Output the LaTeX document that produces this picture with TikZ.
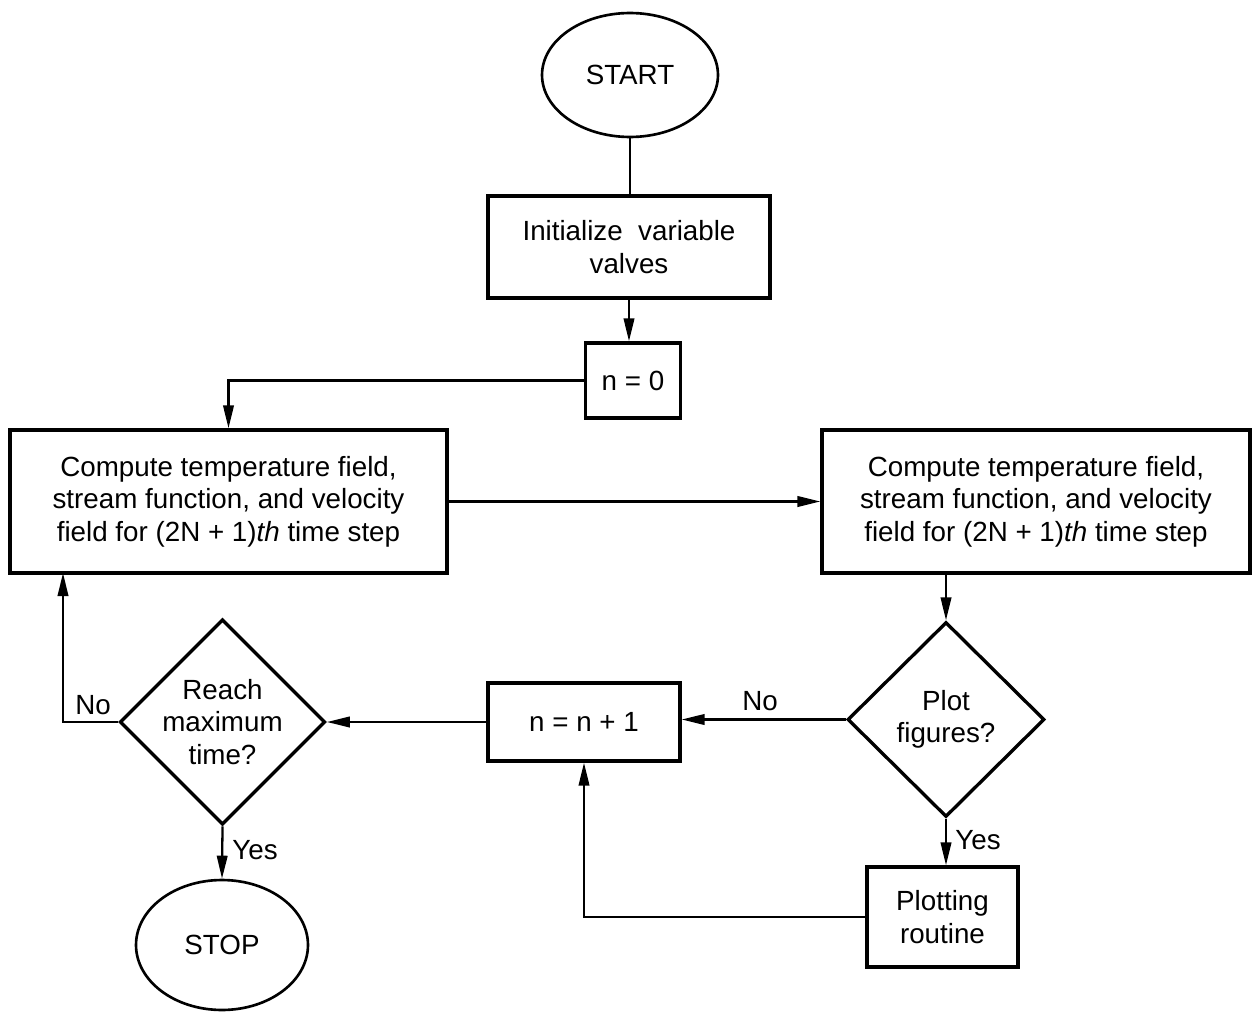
\documentclass[tikz,border=0pt]{standalone}
\usepackage{fontspec}
\setmainfont{Liberation Sans}
\usetikzlibrary{shapes.geometric,arrows.meta}

\tikzset{
    box/.style={draw, line width=1.9pt, align=center, inner sep=2pt},
    decision/.style={draw, diamond, line width=1.9pt, align=center, inner sep=0pt},
    terminal/.style={draw, ellipse, line width=1.5pt, inner sep=0pt},
    arr/.style={line width=1.3pt, -{Triangle[length=4.6mm, width=2.1mm]}},
    link/.style={line width=1.3pt},
    lbl/.style={inner sep=0pt}
}

\begin{document}
\begin{tikzpicture}[x=0.02cm, y=-0.02cm, font=\fontsize{15.8}{18.4}\selectfont]
        \useasboundingbox (0,0) rectangle (1258,1017);

        % Top part
        \node[terminal, minimum width=3.52cm, minimum height=2.48cm] (start) at (630,75) {START};
        \node[box, minimum width=5.64cm, minimum height=2.04cm] (init) at (629,247) {Initialize\ \ variable\\valves};
        \node[box, minimum width=1.9cm, minimum height=1.5cm] (nzero) at (633,380.5) {n = 0};

        % The two compute steps
        \node[box, minimum width=8.74cm, minimum height=2.86cm] (stepa) at (228.5,501.5)
            {Compute temperature field,\\stream function, and velocity\\field for (2N + 1)\textit{th} time step};
        \node[box, minimum width=8.56cm, minimum height=2.86cm] (stepb) at (1036,501.5)
            {Compute temperature field,\\stream function, and velocity\\field for (2N + 1)\textit{th} time step};

        % Decisions and loop
        \node[decision, minimum width=3.94cm, minimum height=3.9cm] (plot) at (946,719.5) {Plot\\figures?};
        \node[box, minimum width=3.84cm, minimum height=1.56cm] (incr) at (584,722) {n = n + 1};
        \node[decision, minimum width=3.9cm, minimum height=3.84cm] (reach) at (222.5,722) {Reach\\maximum\\time?};
        \node[box, minimum width=3.02cm, minimum height=2cm] (plotting) at (942.5,917) {Plotting\\routine};
        \node[terminal, minimum width=3.44cm, minimum height=2.6cm] (stop) at (222,945) {STOP};

        \coordinate (noup) at (63,573);

        % Connectors
        \draw[link] (start.south) -- (start.south |- init.north);
        \draw[arr] (init.south) -- (init.south |- nzero.north);
        \draw[arr] (nzero.west) -| (stepa.north);
        \draw[arr] (stepa.east) -- (stepb.west);
        \draw[arr] (plot.north |- stepb.south) -- (plot.north);
        \draw[arr] (plot.west) -- (plot.west -| incr.east);
        \draw[arr] (incr.west) -- (reach.east);
        \draw[arr] (reach.west) -| (noup);
        \draw[arr] (reach.south) -- (stop.north);
        \draw[arr] (plot.south) -- (plot.south |- plotting.north);
        \draw[arr] (plotting.west) -| (incr.south);

        % Labels
        \node[lbl] (nolb) at (760,701) {No};
        \node[lbl] (yesplot) at (978,840) {Yes};
        \node[lbl] (noreach) at (93,705) {No};
        \node[lbl] (yesreach) at (255,850) {Yes};
    \end{tikzpicture}
\end{document}
